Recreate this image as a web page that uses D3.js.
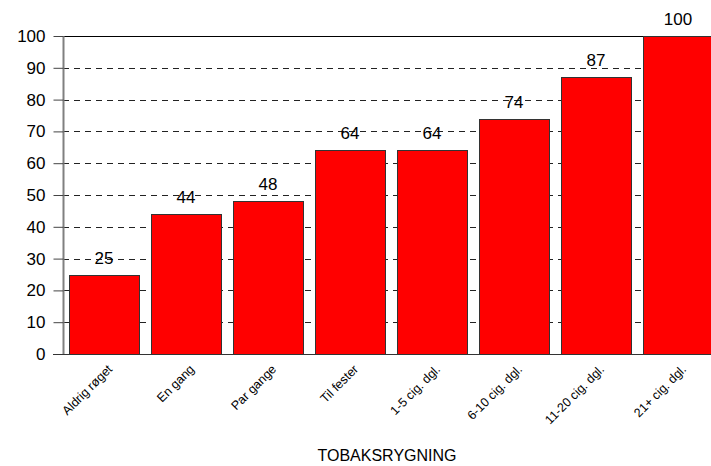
<!DOCTYPE html>
<html><head><meta charset="utf-8">
<script src="https://cdn.jsdelivr.net/npm/d3@7"></script>
<style>body{margin:0;background:#fff}svg{display:block}text{font-family:"Liberation Sans",Arial,sans-serif}</style>
</head><body>
<script>
const categories = ["Aldrig røget","En gang","Par gange","Til fester","1-5 cig. dgl.","6-10 cig. dgl.","11-20 cig. dgl.","21+ cig. dgl."];
const values = [25,44,48,64,64,74,87,100];
const yTicks = [0,10,20,30,40,50,60,70,80,90,100];
const xTitle = "TOBAKSRYGNING";

const W=711,H=466;
const svg=d3.select("body").append("svg").attr("width",W).attr("height",H);
const x=d3.scaleBand().domain(categories).range([63,719]).paddingInner(12/82).paddingOuter(6/82);
const y=d3.scaleLinear().domain([0,100]).range([354,36]);

// gridlines
svg.append("g").selectAll("line").data(yTicks.filter(d=>d>0&&d<100)).join("line")
 .attr("x1",63).attr("x2",W).attr("y1",d=>Math.round(y(d))+0.5).attr("y2",d=>Math.round(y(d))+0.5)
 .attr("stroke","#222").attr("stroke-dasharray","6,5");
svg.append("line").attr("x1",63).attr("x2",W).attr("y1",Math.round(y(100))+0.5).attr("y2",Math.round(y(100))+0.5).attr("stroke","#000");

// value labels
svg.append("g").selectAll("text").data(values).join("text")
 .attr("x",(d,i)=>x(categories[i])+x.bandwidth()/2).attr("y",d=>y(d)-11)
 .attr("text-anchor","middle").attr("font-size",17).attr("fill","#000").text(d=>d);

// bars
svg.append("g").selectAll("rect").data(values).join("rect")
 .attr("x",(d,i)=>Math.round(x(categories[i]))+0.5).attr("y",d=>Math.round(y(d))+0.5)
 .attr("width",Math.round(x.bandwidth())).attr("height",d=>Math.round(y(0))-Math.round(y(d)))
 .attr("fill","#ff0000").attr("stroke","#333").attr("stroke-width",1);

// y axis
const ya=svg.append("g").attr("transform","translate(63.5,0)").call(d3.axisLeft(y).tickValues(yTicks).tickSize(10).tickPadding(8));
ya.select(".domain").attr("stroke","#808080").attr("stroke-width",2).attr("d","M0,36V354");
ya.selectAll(".tick line").attr("stroke","#444");
ya.selectAll(".tick text").attr("font-size",17).attr("fill","#000").attr("font-family","Liberation Sans, Arial, sans-serif");

// x axis baseline
svg.append("line").attr("x1",53).attr("x2",W).attr("y1",354.5).attr("y2",354.5).attr("stroke","#333");

// x labels
svg.append("g").selectAll("text").data(categories).join("text")
 .attr("transform",d=>`translate(${x(d)+x.bandwidth()/2+9},${370}) rotate(-45)`)
 .attr("text-anchor","end").attr("font-size",12.5).attr("fill","#000").text(d=>d);

svg.append("text").attr("x",387).attr("y",461).attr("text-anchor","middle").attr("font-size",16).text(xTitle);
</script>
</body></html>
